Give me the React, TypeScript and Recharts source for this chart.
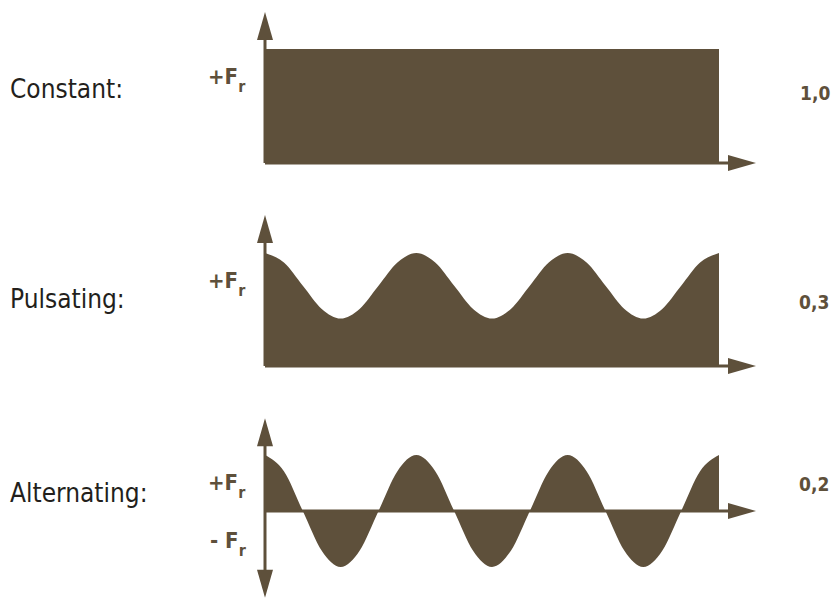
import React from 'react';
import { AreaChart, Area, XAxis, YAxis, ReferenceLine } from 'recharts';

const BROWN = '#5e503b';
const TEXT_DARK = '#231f1c';
const FONT = '"DejaVu Sans Condensed", "DejaVu Sans", sans-serif';

// phase angle along the time axis (degrees), three full periods
const phaseDeg = [
  0, 45, 90, 135, 180, 225, 270, 315, 360,
  405, 450, 495, 540, 585, 630, 675, 720,
  765, 810, 855, 900, 945, 990, 1035, 1080,
];

// force in units of F_r
const constantForce = [
  1.0, 1.0, 1.0, 1.0, 1.0, 1.0, 1.0, 1.0, 1.0,
  1.0, 1.0, 1.0, 1.0, 1.0, 1.0, 1.0, 1.0,
  1.0, 1.0, 1.0, 1.0, 1.0, 1.0, 1.0, 1.0,
];
const pulsatingForce = [
  1.0, 0.915, 0.71, 0.505, 0.42, 0.505, 0.71, 0.915, 1.0,
  0.915, 0.71, 0.505, 0.42, 0.505, 0.71, 0.915, 1.0,
  0.915, 0.71, 0.505, 0.42, 0.505, 0.71, 0.915, 1.0,
];
const alternatingForce = [
  1.0, 0.71, 0.0, -0.71, -1.0, -0.71, 0.0, 0.71, 1.0,
  0.71, 0.0, -0.71, -1.0, -0.71, 0.0, 0.71, 1.0,
  0.71, 0.0, -0.71, -1.0, -0.71, 0.0, 0.71, 1.0,
];

const rowLabels = ['Constant:', 'Pulsating:', 'Alternating:'];
const ratioLabels = ['1,0', '0,3', '0,2'];

const build = (vals: number[]) => phaseDeg.map((p, i) => ({ phase: p, force: vals[i] }));

const Arrow = (props: any) => {
  const { x1, y1, x2, y2 } = props;
  const dx = x2 - x1;
  const dy = y2 - y1;
  const len = Math.hypot(dx, dy) || 1;
  const ux = dx / len;
  const uy = dy / len;
  const headLen = 28;
  const half = 8;
  const bx = x2 - ux * headLen;
  const by = y2 - uy * headLen;
  const px = -uy;
  const py = ux;
  return (
    <g>
      <line x1={x1} y1={y1} x2={bx + ux} y2={by + uy} stroke={BROWN} strokeWidth={3} />
      <polygon
        points={`${x2},${y2} ${bx + px * half},${by + py * half} ${bx - px * half},${by - py * half}`}
        fill={BROWN}
      />
    </g>
  );
};

const X_END = 1168;
const W = 836;
const M_LEFT = 265;
const M_RIGHT = 117;

type PanelProps = {
  top: number;
  data: { phase: number; force: number }[];
  domain: [number, number];
  mTop: number;
  mBottom: number;
  curve: 'linear' | 'monotone';
  upEnd: number;
  downEnd?: number;
};

const Panel = ({ top, data, domain, mTop, mBottom, curve, upEnd, downEnd }: PanelProps) => (
  <div style={{ position: 'absolute', left: 0, top, width: W, height: 200 }}>
    <AreaChart
      width={W}
      height={200}
      data={data}
      margin={{ top: mTop, bottom: mBottom, left: M_LEFT, right: M_RIGHT }}
    >
      <XAxis dataKey="phase" type="number" domain={[0, 1080]} hide />
      <YAxis type="number" domain={domain} hide />
      <Area
        type={curve}
        dataKey="force"
        stroke="none"
        fill={BROWN}
        fillOpacity={1}
        isAnimationActive={false}
        dot={false}
        activeDot={false}
      />
      <ReferenceLine
        segment={[{ x: 0, y: 0 }, { x: X_END, y: 0 }]}
        ifOverflow="visible"
        shape={Arrow}
      />
      <ReferenceLine
        segment={[{ x: 0, y: 0 }, { x: 0, y: upEnd }]}
        ifOverflow="visible"
        shape={Arrow}
      />
      {downEnd !== undefined && (
        <ReferenceLine
          segment={[{ x: 0, y: 0 }, { x: 0, y: downEnd }]}
          ifOverflow="visible"
          shape={Arrow}
        />
      )}
    </AreaChart>
  </div>
);

const ForceLabel = ({ x, y, sign }: { x: number; y: number; sign: string }) => (
  <text x={x} y={y} fill={BROWN} fontFamily={FONT} fontWeight="bold" fontSize={22}>
    {sign}F
    <tspan fontSize={16} dy={8}>r</tspan>
  </text>
);

export default function App() {
  return (
    <div style={{ position: 'absolute', left: 0, top: 0, width: W, height: 600, background: '#fff' }}>
      <Panel top={0} data={build(constantForce)} domain={[0, 1]} mTop={49} mBottom={37} curve="linear" upEnd={1.325} />
      <Panel top={200} data={build(pulsatingForce)} domain={[0, 1]} mTop={53} mBottom={34} curve="monotone" upEnd={1.336} />
      <Panel
        top={400}
        data={build(alternatingForce)}
        domain={[-1, 1]}
        mTop={55}
        mBottom={33}
        curve="monotone"
        upEnd={1.655}
        downEnd={-1.55}
      />
      <svg width={W} height={600} style={{ position: 'absolute', left: 0, top: 0, pointerEvents: 'none' }}>
        <text x={10} y={98} fill={TEXT_DARK} fontFamily={FONT} fontSize={26}>{rowLabels[0]}</text>
        <text x={10} y={308} fill={TEXT_DARK} fontFamily={FONT} fontSize={26}>{rowLabels[1]}</text>
        <text x={10} y={502} fill={TEXT_DARK} fontFamily={FONT} fontSize={26}>{rowLabels[2]}</text>
        <ForceLabel x={208} y={84} sign="+" />
        <ForceLabel x={208} y={288} sign="+" />
        <ForceLabel x={208} y={490} sign="+" />
        <ForceLabel x={210} y={548} sign="- " />
        <text x={800} y={100} fill={BROWN} fontFamily={FONT} fontWeight="bold" fontSize={19}>{ratioLabels[0]}</text>
        <text x={799} y={309} fill={BROWN} fontFamily={FONT} fontWeight="bold" fontSize={19}>{ratioLabels[1]}</text>
        <text x={799} y={491} fill={BROWN} fontFamily={FONT} fontWeight="bold" fontSize={19}>{ratioLabels[2]}</text>
      </svg>
    </div>
  );
}
